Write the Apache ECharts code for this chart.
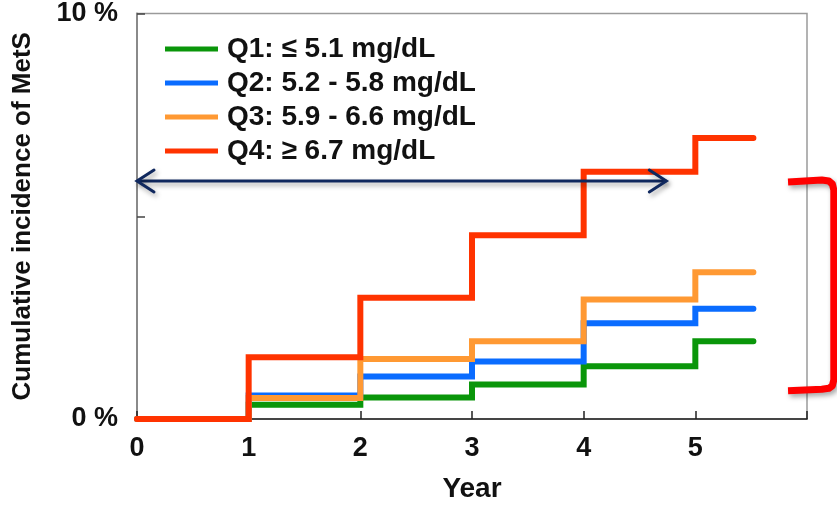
<!DOCTYPE html>
<html>
<head>
<meta charset="utf-8">
<script src="https://cdn.jsdelivr.net/npm/echarts@6/dist/echarts.min.js"></script>
<style>
  html, body { margin: 0; padding: 0; background: #fff; }
  #chart { width: 837px; height: 508px; }
</style>
</head>
<body>
<div id="chart"></div>
<script>
// years at which each step is read (5.5 = end of follow-up line)
const years = [0, 1, 2, 3, 4, 5, 5.52];
const seriesNames = ["Q1: ≤ 5.1 mg/dL", "Q2: 5.2 - 5.8 mg/dL", "Q3: 5.9 - 6.6 mg/dL", "Q4: ≥ 6.7 mg/dL"];
const q1 = [0, 0.35, 0.53, 0.85, 1.3, 1.92, 1.92];
const q2 = [0, 0.58, 1.05, 1.42, 2.36, 2.72, 2.72];
const q3 = [0, 0.52, 1.48, 1.92, 2.95, 3.62, 3.62];
const q4 = [0, 1.52, 2.99, 4.53, 6.1, 6.93, 6.93];
const colors = ["#0a960a", "#0a6cff", "#ff9933", "#ff3300"];
const xTicks = [0, 1, 2, 3, 4, 5];

// annotations (data units)
const arrowY = 5.87;
const arrowX = [0, 4.74];
const bracketX = [5.83, 6.24];
const bracketY = [5.87, 0.72];

const font = "'Liberation Sans', Arial, sans-serif";

const chart = echarts.init(document.getElementById("chart"));

const allSeries = [q1, q2, q3, q4].map((vals, i) => ({
  name: seriesNames[i],
  type: "line",
  step: "end",
  showSymbol: false,
  symbol: "none",
  animation: false,
  data: years.map((x, j) => [x, vals[j]]),
  lineStyle: { width: 6, color: colors[i], cap: "round", join: "miter" },
  itemStyle: { color: colors[i] },
  z: 2 + i,
}));

const option = {
  animation: false,
  grid: {
    left: 137,
    right: 30,
    top: 13,
    bottom: 81,
    show: true,
    borderColor: "#9a9a9a",
    borderWidth: 1.5,
  },
  legend: {
    orient: "vertical",
    left: 160,
    top: 30,
    icon: "rect",
    itemWidth: 53,
    itemHeight: 5,
    itemGap: 6,
    textStyle: {
      fontFamily: font,
      fontWeight: "bold",
      fontSize: 28,
      lineHeight: 28,
      color: "#111",
      padding: [0, 0, 0, 4],
    },
    data: seriesNames,
  },
  xAxis: {
    type: "value",
    min: 0,
    max: 6,
    interval: 1,
    name: "Year",
    nameLocation: "middle",
    nameGap: 56,
    nameTextStyle: { fontFamily: font, fontWeight: "bold", fontSize: 28, color: "#111" },
    axisLine: { lineStyle: { color: "#222", width: 1.5 } },
    axisTick: { inside: true, length: 8, lineStyle: { color: "#222", width: 1.5 } },
    splitLine: { show: false },
    axisLabel: {
      margin: 16,
      fontFamily: font,
      fontWeight: "bold",
      fontSize: 27,
      color: "#111",
      formatter: (v) => (xTicks.includes(v) ? String(v) : ""),
    },
  },
  yAxis: {
    type: "value",
    min: 0,
    max: 10,
    interval: 5,
    name: "Cumulative incidence of MetS",
    nameLocation: "middle",
    nameGap: 101,
    nameTextStyle: { fontFamily: font, fontWeight: "bold", fontSize: 26, color: "#111" },
    axisLine: { lineStyle: { color: "#8a8a8a", width: 2 } },
    axisTick: { inside: true, length: 8, lineStyle: { color: "#444", width: 1.5 } },
    splitLine: { show: false },
    axisLabel: {
      margin: 19,
      fontFamily: font,
      fontWeight: "bold",
      fontSize: 27,
      color: "#111",
      formatter: (v) => (v === 5 ? "" : v + " %"),
    },
  },
  series: allSeries,
};

chart.setOption(option);

// annotation arrow and bracket placed through the axes
const px = (x, y) => chart.convertToPixel({ gridIndex: 0 }, [x, y]);
const a0 = px(arrowX[0], arrowY);
const a1 = px(arrowX[1], arrowY);
const b0 = px(bracketX[0], bracketY[0]);
const b1 = px(bracketX[1], bracketY[1]);
const shadow = { shadowBlur: 5, shadowColor: "rgba(0,0,0,0.35)", shadowOffsetX: 2, shadowOffsetY: 3 };
const navy = "#10285e";

// bracket outline: top arm, rounded corner, vertical, rounded corner, bottom arm
const bx0 = b0[0], bx1 = b1[0], yt = b0[1], yb = b1[1];
const bracketPts = [
  [bx0, yt + 1],
  [bx1 - 12, yt - 1],
  [bx1 - 5, yt],
  [bx1 - 1.5, yt + 3],
  [bx1, yt + 9],
  [bx1, yb - 10],
  [bx1 - 1.5, yb - 4],
  [bx1 - 5, yb - 1.5],
  [bx1 - 12, yb - 0.5],
  [bx0, yb + 1],
];

chart.setOption({
  graphic: [
    {
      type: "polyline",
      z: 100,
      shape: { points: [a0, a1] },
      style: Object.assign({ stroke: navy, lineWidth: 3, fill: null }, shadow),
    },
    {
      type: "polyline",
      z: 100,
      shape: { points: [[a0[0] + 17, a0[1] - 11], a0, [a0[0] + 17, a0[1] + 11]] },
      style: Object.assign({ stroke: navy, lineWidth: 3, fill: null, lineCap: "round" }, shadow),
    },
    {
      type: "polyline",
      z: 100,
      shape: { points: [[a1[0] - 17, a1[1] - 11], a1, [a1[0] - 17, a1[1] + 11]] },
      style: Object.assign({ stroke: navy, lineWidth: 3, fill: null, lineCap: "round" }, shadow),
    },
    {
      type: "polyline",
      z: 100,
      shape: { points: bracketPts },
      style: Object.assign({ stroke: "#ff0000", lineWidth: 7, fill: null, lineJoin: "round" }, shadow),
    },
  ],
});
</script>
</body>
</html>
